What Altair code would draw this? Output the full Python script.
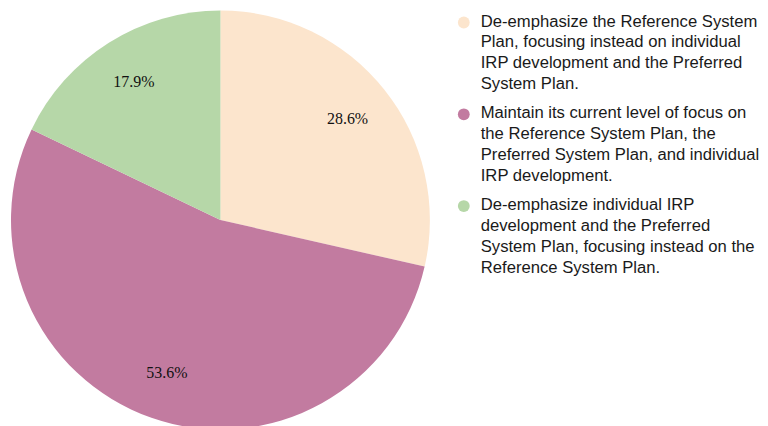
import altair as alt
import pandas as pd

categories = [
    "De-emphasize the Reference System Plan, focusing instead on individual IRP development and the Preferred System Plan.",
    "Maintain its current level of focus on the Reference System Plan, the Preferred System Plan, and individual IRP development.",
    "De-emphasize individual IRP development and the Preferred System Plan, focusing instead on the Reference System Plan.",
]
legend_lines = [
    "De-emphasize the Reference System|Plan, focusing instead on individual|IRP development and the Preferred|System Plan.",
    "Maintain its current level of focus on|the Reference System Plan, the|Preferred System Plan, and individual|IRP development.",
    "De-emphasize individual IRP|development and the Preferred|System Plan, focusing instead on the|Reference System Plan.",
]
values = [28.6, 53.6, 17.9]
pct_labels = ["28.6%", "53.6%", "17.9%"]
colors = ["#FCE5CD", "#C27BA0", "#B6D7A8"]

df = pd.DataFrame({
    "idx": list(range(len(categories))),
    "category": categories,
    "legend": legend_lines,
    "value": values,
    "pct": pct_labels,
})

color = alt.Color("category:N", scale=alt.Scale(domain=categories, range=colors), legend=None)

base = alt.Chart(df).encode(
    theta=alt.Theta("value:Q", stack=True),
    order=alt.Order("idx:Q"),
    x=alt.value(213),
    y=alt.value(207),
)

arcs = base.mark_arc(outerRadius=210, stroke=None).encode(color=color)
texts = base.mark_text(radius=163, font="Liberation Serif", fontSize=16).encode(
    text=alt.Text("pct:N"), color=alt.value("#111111")
)
pie = alt.layer(arcs, texts).properties(width=426, height=408)

ly = alt.Y("category:N", sort=categories, axis=None,
           scale=alt.Scale(type="point", range=[0, 184], padding=0))
dots = alt.Chart(df).mark_point(filled=True, size=140, opacity=1, shape="circle", yOffset=9).encode(
    y=ly, x=alt.value(31), color=color
)
ltext = alt.Chart(df).mark_text(
    align="left", baseline="top", lineBreak="|", lineHeight=21,
    font="Liberation Sans", fontSize=16.7, color="#1a1a1a"
).encode(y=ly, x=alt.value(48), text="legend:N")
legend = alt.layer(dots, ltext).properties(width=326, height=408)

chart = alt.hconcat(pie, legend, spacing=0).properties(
    padding={"top": 2, "left": 0, "right": 0, "bottom": 0}
).configure_view(stroke=None)

chart.save("out.html", embed_options={"renderer": "svg", "actions": False})
